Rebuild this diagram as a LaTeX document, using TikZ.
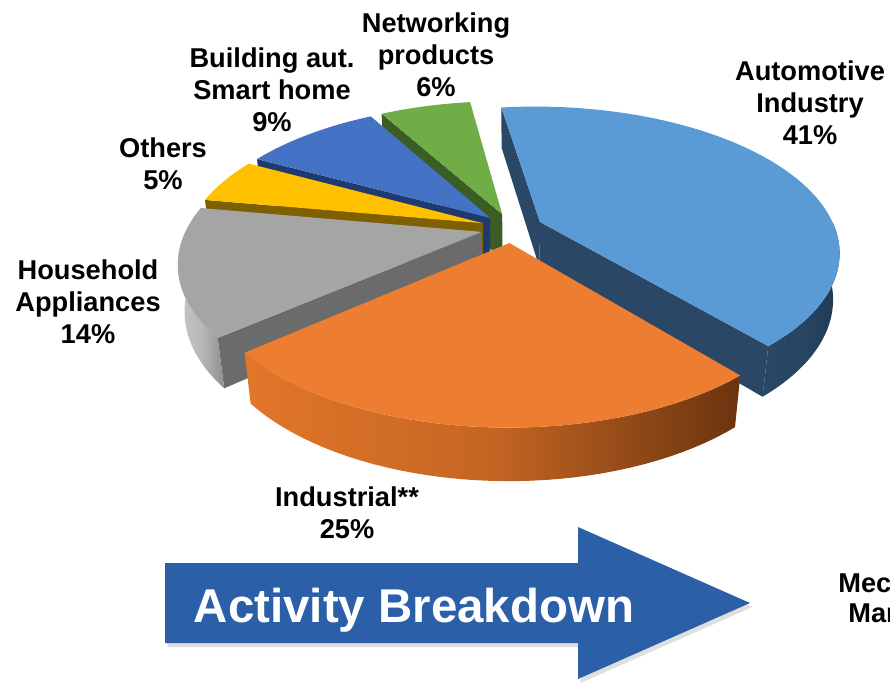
\documentclass[tikz,border=0pt]{standalone}
\usepackage{fontspec}
\setmainfont{Liberation Sans}
\usetikzlibrary{shadows}

\definecolor{netg}{HTML}{70AD47}
\definecolor{netgd}{HTML}{3A5C25}
\definecolor{bldb}{HTML}{4472C4}
\definecolor{bldbd}{HTML}{1F3A6E}
\definecolor{autb}{HTML}{5B9BD5}
\definecolor{autbd}{HTML}{2A4866}
\definecolor{autbe}{HTML}{203A55}
\definecolor{othy}{HTML}{FFC000}
\definecolor{othyd}{HTML}{7F6000}
\definecolor{hhg}{HTML}{A5A5A5}
\definecolor{hhgd}{HTML}{6B6B6B}
\definecolor{hhgl}{HTML}{C6C6C6}
\definecolor{hhgw}{HTML}{8E8E8E}
\definecolor{indo}{HTML}{ED7D31}
\definecolor{indod}{HTML}{A24F16}
\definecolor{indow}{HTML}{E27629}
\definecolor{indoe}{HTML}{6A340F}
\definecolor{arrowb}{HTML}{2B5FA8}

% camera of the 3d pie
\def\cx{512}
\def\cy{228}
\def\F{1295}
\def\D{4.39}
\def\al{28.5}
\def\ex{0.105}
\def\hh{0.18}

\tikzset{
  pielabel/.style={font=\fontsize{15.5}{18.2}\selectfont\bfseries, align=center, inner sep=0pt},
  bigarrow/.style={fill=arrowb, drop shadow={shadow xshift=0.05cm, shadow yshift=-0.08cm, opacity=0.25}}
}

\begin{document}
\begin{tikzpicture}[x=0.02cm, y=-0.02cm,
    declare function={
      dep(\X,\Y,\Z)=\D+(\Y)*cos(\al)-(\Z)*sin(\al);
      px(\X,\Y,\Z)=\cx+\F*(\X)/dep(\X,\Y,\Z);
      py(\X,\Y,\Z)=\cy-\F*((\Y)*sin(\al)+(\Z)*cos(\al))/dep(\X,\Y,\Z);
    }]
  \useasboundingbox (0,0) rectangle (890,684);

  % slices, back to front
  \foreach \sA/\sB/\cTop/\cSide/\cWl/\cWr in {
      98/119.6/netg/netgd/netgd/netgd,
      119.6/152/bldb/bldbd/bldbd/bldbd,
      -49.6/98/autb/autbd/autbd/autbe,
      152/170/othy/othyd/othyd/othyd,
      -190/-139.6/hhg/hhgd/hhgl/hhgw,
      -139.6/-49.6/indo/indod/indow/indoe} {
    \pgfmathsetmacro\sOx{\ex*cos((\sA+\sB)/2)}
    \pgfmathsetmacro\sOy{\ex*sin((\sA+\sB)/2)}
    \coordinate (c0) at ({px(\sOx,\sOy,0)},{py(\sOx,\sOy,0)});
    \coordinate (c1) at ({px(\sOx,\sOy,-\hh)},{py(\sOx,\sOy,-\hh)});
    \coordinate (a0) at ({px(cos(\sA)+\sOx,sin(\sA)+\sOy,0)},{py(cos(\sA)+\sOx,sin(\sA)+\sOy,0)});
    \coordinate (a1) at ({px(cos(\sA)+\sOx,sin(\sA)+\sOy,-\hh)},{py(cos(\sA)+\sOx,sin(\sA)+\sOy,-\hh)});
    \coordinate (b0) at ({px(cos(\sB)+\sOx,sin(\sB)+\sOy,0)},{py(cos(\sB)+\sOx,sin(\sB)+\sOy,0)});
    \coordinate (b1) at ({px(cos(\sB)+\sOx,sin(\sB)+\sOy,-\hh)},{py(cos(\sB)+\sOx,sin(\sB)+\sOy,-\hh)});
    \pgfmathparse{cos(\sA)>0 ? 1 : 0}
    \ifdim\pgfmathresult pt>0.5pt
      \fill[\cSide] (c0) -- (a0) -- (a1) -- (c1) -- cycle;
    \fi
    \pgfmathparse{cos(\sB)<0 ? 1 : 0}
    \ifdim\pgfmathresult pt>0.5pt
      \fill[\cSide] (c0) -- (b0) -- (b1) -- (c1) -- cycle;
    \fi
    \pgfmathsetmacro\wlo{max(\sA,-180)}
    \pgfmathsetmacro\whi{min(\sB,0)}
    \ifdim\wlo pt<\whi pt
      \shade[left color=\cWl, right color=\cWr, middle color=\cWl!75!\cWr]
        plot[domain=\wlo:\whi, samples=40] ({px(cos(\x)+\sOx,sin(\x)+\sOy,0)},{py(cos(\x)+\sOx,sin(\x)+\sOy,0)})
        -- plot[domain=\whi:\wlo, samples=40] ({px(cos(\x)+\sOx,sin(\x)+\sOy,-\hh)},{py(cos(\x)+\sOx,sin(\x)+\sOy,-\hh)})
        -- cycle;
    \fi
    \fill[\cTop] (c0) -- plot[domain=\sA:\sB, samples=50] ({px(cos(\x)+\sOx,sin(\x)+\sOy,0)},{py(cos(\x)+\sOx,sin(\x)+\sOy,0)}) -- cycle;
  }

  % labels
  \node[pielabel] (netw) at (436,55) {Networking\\products\\6\%};
  \node[pielabel] (bldg) at (272,90) {Building aut.\\Smart home\\9\%};
  \node[pielabel] (othr) at (163,164) {Others\\5\%};
  \node[pielabel] (hous) at (88,302) {Household\\Appliances\\14\%};
  \node[pielabel] (auto) at (810,103) {Automotive\\Industry\\41\%};
  \node[pielabel] (indu) at (347,513) {Industrial**\\25\%};

  % arrow
  \fill[bigarrow] (165,563) -- (578,563) -- (578,527) -- (750,603) -- (578,679) -- (578,643) -- (165,643) -- cycle;
  \node[font=\fontsize{27}{30}\selectfont\bfseries, text=white, inner sep=0pt, anchor=base] (actv) at (414,622) {Activity Breakdown};

  \node[pielabel, anchor=west] (mecA) at (838,583) {Mec};
  \node[pielabel, anchor=west] (mecB) at (848,613) {Mar};
\end{tikzpicture}
\end{document}
